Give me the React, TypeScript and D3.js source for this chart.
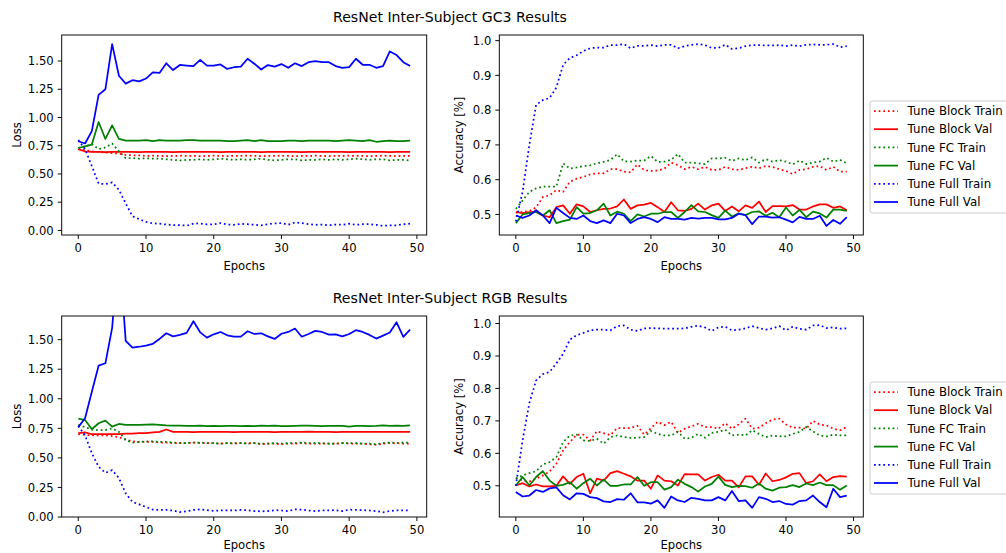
import React from 'react';
import { scaleLinear, line, min, max, format } from 'd3';

const seriesLabels = ['Tune Block Train', 'Tune Block Val', 'Tune FC Train', 'Tune FC Val', 'Tune Full Train', 'Tune Full Val'];
const seriesColors = ['#ff0000', '#ff0000', '#008000', '#008000', '#0000ff', '#0000ff'];
const seriesDotted = [true, false, true, false, true, false];

const lossTicks = [0, 0.25, 0.5, 0.75, 1.0, 1.25, 1.5];
const accTicks = [0.5, 0.6, 0.7, 0.8, 0.9, 1.0];
const epochTicks = [0, 10, 20, 30, 40, 50];

const titles = ['ResNet Inter-Subject GC3 Results', 'ResNet Inter-Subject RGB Results'];

// ---- GC3 loss ----
const gc3LossBlockTrain = [0.72, 0.71, 0.70, 0.695, 0.69, 0.685, 0.68, 0.67, 0.665, 0.665, 0.66, 0.662, 0.66, 0.658, 0.66, 0.662, 0.66, 0.66, 0.658, 0.66, 0.662, 0.66, 0.658, 0.66, 0.66, 0.662, 0.66, 0.658, 0.66, 0.66, 0.662, 0.66, 0.658, 0.66, 0.66, 0.662, 0.66, 0.658, 0.66, 0.66, 0.662, 0.66, 0.66, 0.658, 0.66, 0.662, 0.66, 0.658, 0.66, 0.66];
const gc3LossBlockVal = [0.72, 0.70, 0.695, 0.695, 0.694, 0.695, 0.696, 0.695, 0.695, 0.694, 0.695, 0.695, 0.696, 0.695, 0.694, 0.695, 0.695, 0.695, 0.696, 0.695, 0.695, 0.694, 0.695, 0.695, 0.696, 0.695, 0.695, 0.694, 0.695, 0.695, 0.696, 0.695, 0.695, 0.694, 0.695, 0.695, 0.695, 0.696, 0.695, 0.695, 0.694, 0.695, 0.695, 0.696, 0.695, 0.695, 0.694, 0.695, 0.695, 0.695];
const gc3LossFcTrain = [0.73, 0.745, 0.765, 0.72, 0.735, 0.77, 0.70, 0.64, 0.64, 0.635, 0.64, 0.635, 0.635, 0.63, 0.625, 0.62, 0.625, 0.625, 0.63, 0.625, 0.63, 0.635, 0.63, 0.625, 0.63, 0.625, 0.63, 0.635, 0.625, 0.62, 0.625, 0.63, 0.63, 0.62, 0.625, 0.625, 0.63, 0.625, 0.63, 0.625, 0.63, 0.635, 0.63, 0.625, 0.63, 0.63, 0.62, 0.625, 0.625, 0.62];
const gc3LossFcVal = [0.73, 0.745, 0.76, 0.96, 0.81, 0.93, 0.81, 0.795, 0.795, 0.795, 0.80, 0.79, 0.80, 0.795, 0.795, 0.795, 0.80, 0.80, 0.795, 0.795, 0.795, 0.795, 0.79, 0.79, 0.795, 0.80, 0.79, 0.80, 0.79, 0.79, 0.79, 0.795, 0.795, 0.79, 0.795, 0.795, 0.795, 0.795, 0.79, 0.795, 0.80, 0.795, 0.79, 0.80, 0.785, 0.79, 0.795, 0.79, 0.79, 0.795];
const gc3LossFullTrain = [0.80, 0.72, 0.57, 0.415, 0.41, 0.425, 0.36, 0.24, 0.125, 0.10, 0.075, 0.062, 0.06, 0.052, 0.048, 0.048, 0.042, 0.06, 0.062, 0.053, 0.053, 0.065, 0.052, 0.05, 0.058, 0.055, 0.05, 0.045, 0.055, 0.062, 0.065, 0.05, 0.07, 0.065, 0.055, 0.05, 0.052, 0.045, 0.052, 0.05, 0.06, 0.05, 0.055, 0.055, 0.05, 0.04, 0.045, 0.045, 0.055, 0.06];
const gc3LossFullVal = [0.79, 0.77, 0.88, 1.20, 1.25, 1.65, 1.37, 1.30, 1.33, 1.32, 1.345, 1.40, 1.395, 1.48, 1.42, 1.465, 1.46, 1.455, 1.51, 1.46, 1.46, 1.47, 1.43, 1.445, 1.45, 1.52, 1.476, 1.425, 1.464, 1.45, 1.473, 1.44, 1.48, 1.455, 1.49, 1.50, 1.49, 1.49, 1.455, 1.44, 1.446, 1.52, 1.467, 1.467, 1.44, 1.455, 1.585, 1.553, 1.49, 1.455];

// ---- GC3 accuracy ----
const gc3AccBlockTrain = [0.505, 0.507, 0.51, 0.52, 0.55, 0.555, 0.57, 0.565, 0.594, 0.603, 0.608, 0.615, 0.618, 0.618, 0.63, 0.63, 0.623, 0.621, 0.644, 0.628, 0.625, 0.626, 0.632, 0.649, 0.642, 0.63, 0.637, 0.63, 0.637, 0.628, 0.628, 0.637, 0.63, 0.628, 0.633, 0.637, 0.633, 0.639, 0.637, 0.63, 0.625, 0.616, 0.628, 0.63, 0.637, 0.639, 0.628, 0.637, 0.623, 0.623];
const gc3AccBlockVal = [0.507, 0.504, 0.507, 0.507, 0.497, 0.492, 0.521, 0.526, 0.502, 0.529, 0.523, 0.507, 0.512, 0.516, 0.517, 0.523, 0.543, 0.516, 0.526, 0.528, 0.533, 0.521, 0.507, 0.535, 0.512, 0.51, 0.516, 0.531, 0.514, 0.526, 0.531, 0.51, 0.523, 0.509, 0.526, 0.519, 0.537, 0.507, 0.524, 0.524, 0.523, 0.527, 0.514, 0.514, 0.523, 0.529, 0.529, 0.519, 0.523, 0.512];
const gc3AccFcTrain = [0.516, 0.54, 0.565, 0.575, 0.58, 0.58, 0.58, 0.647, 0.632, 0.635, 0.639, 0.641, 0.647, 0.651, 0.657, 0.673, 0.653, 0.652, 0.655, 0.655, 0.668, 0.651, 0.652, 0.657, 0.674, 0.649, 0.649, 0.647, 0.645, 0.661, 0.661, 0.663, 0.654, 0.661, 0.656, 0.664, 0.649, 0.659, 0.652, 0.656, 0.652, 0.644, 0.655, 0.645, 0.649, 0.652, 0.663, 0.652, 0.657, 0.647];
const gc3AccFcVal = [0.475, 0.50, 0.504, 0.507, 0.497, 0.512, 0.475, 0.481, 0.485, 0.521, 0.502, 0.504, 0.512, 0.531, 0.497, 0.508, 0.502, 0.481, 0.50, 0.494, 0.502, 0.502, 0.507, 0.507, 0.49, 0.507, 0.527, 0.509, 0.507, 0.498, 0.49, 0.511, 0.494, 0.503, 0.498, 0.507, 0.509, 0.496, 0.505, 0.492, 0.52, 0.497, 0.513, 0.492, 0.508, 0.503, 0.491, 0.514, 0.514, 0.51];
const gc3AccFullTrain = [0.48, 0.565, 0.70, 0.815, 0.829, 0.835, 0.865, 0.93, 0.95, 0.958, 0.97, 0.978, 0.98, 0.98, 0.987, 0.987, 0.99, 0.978, 0.985, 0.985, 0.987, 0.984, 0.988, 0.988, 0.978, 0.984, 0.988, 0.99, 0.987, 0.979, 0.979, 0.988, 0.976, 0.978, 0.984, 0.987, 0.987, 0.986, 0.986, 0.987, 0.984, 0.987, 0.984, 0.988, 0.989, 0.988, 0.988, 0.99, 0.981, 0.984];
const gc3AccFullVal = [0.497, 0.49, 0.497, 0.512, 0.497, 0.475, 0.519, 0.504, 0.49, 0.487, 0.497, 0.481, 0.475, 0.483, 0.475, 0.502, 0.497, 0.475, 0.487, 0.492, 0.487, 0.478, 0.492, 0.487, 0.487, 0.485, 0.49, 0.488, 0.49, 0.49, 0.486, 0.486, 0.49, 0.502, 0.498, 0.472, 0.494, 0.494, 0.491, 0.492, 0.485, 0.477, 0.493, 0.487, 0.487, 0.496, 0.467, 0.484, 0.473, 0.492];

// ---- RGB loss ----
const rgbLossBlockTrain = [0.70, 0.695, 0.69, 0.69, 0.69, 0.685, 0.675, 0.655, 0.64, 0.635, 0.635, 0.635, 0.63, 0.63, 0.625, 0.625, 0.625, 0.63, 0.625, 0.625, 0.625, 0.62, 0.625, 0.62, 0.625, 0.625, 0.625, 0.615, 0.62, 0.62, 0.615, 0.62, 0.62, 0.625, 0.62, 0.62, 0.62, 0.62, 0.62, 0.625, 0.62, 0.62, 0.62, 0.615, 0.61, 0.62, 0.625, 0.625, 0.62, 0.62];
const rgbLossBlockVal = [0.71, 0.715, 0.70, 0.70, 0.70, 0.70, 0.70, 0.705, 0.705, 0.71, 0.71, 0.715, 0.72, 0.74, 0.72, 0.72, 0.72, 0.718, 0.72, 0.72, 0.72, 0.72, 0.72, 0.718, 0.72, 0.72, 0.72, 0.72, 0.72, 0.718, 0.72, 0.72, 0.72, 0.72, 0.722, 0.72, 0.72, 0.72, 0.718, 0.72, 0.72, 0.72, 0.72, 0.72, 0.72, 0.72, 0.72, 0.72, 0.72, 0.72];
const rgbLossFcTrain = [0.78, 0.76, 0.74, 0.735, 0.735, 0.75, 0.72, 0.65, 0.63, 0.635, 0.64, 0.64, 0.635, 0.635, 0.63, 0.625, 0.625, 0.63, 0.63, 0.625, 0.625, 0.62, 0.625, 0.625, 0.625, 0.62, 0.625, 0.62, 0.62, 0.625, 0.62, 0.625, 0.625, 0.63, 0.625, 0.625, 0.625, 0.62, 0.62, 0.625, 0.625, 0.625, 0.62, 0.62, 0.615, 0.625, 0.63, 0.625, 0.63, 0.63];
const rgbLossFcVal = [0.832, 0.82, 0.742, 0.793, 0.815, 0.764, 0.787, 0.78, 0.78, 0.78, 0.782, 0.784, 0.78, 0.775, 0.772, 0.772, 0.77, 0.77, 0.772, 0.768, 0.77, 0.768, 0.77, 0.77, 0.768, 0.77, 0.768, 0.772, 0.77, 0.772, 0.768, 0.768, 0.77, 0.772, 0.772, 0.77, 0.768, 0.77, 0.77, 0.77, 0.765, 0.77, 0.77, 0.768, 0.77, 0.775, 0.77, 0.772, 0.77, 0.775];
const rgbLossFullTrain = [0.77, 0.69, 0.54, 0.425, 0.374, 0.396, 0.33, 0.20, 0.127, 0.107, 0.085, 0.062, 0.06, 0.06, 0.055, 0.042, 0.048, 0.06, 0.065, 0.058, 0.052, 0.055, 0.055, 0.055, 0.06, 0.058, 0.05, 0.048, 0.05, 0.058, 0.055, 0.05, 0.065, 0.062, 0.055, 0.05, 0.055, 0.055, 0.058, 0.05, 0.062, 0.06, 0.058, 0.055, 0.05, 0.04, 0.05, 0.055, 0.055, 0.055];
const rgbLossFullVal = [0.76, 0.835, 1.06, 1.28, 1.30, 1.60, 2.3, 1.49, 1.432, 1.44, 1.45, 1.465, 1.506, 1.554, 1.528, 1.54, 1.557, 1.656, 1.562, 1.517, 1.545, 1.565, 1.537, 1.525, 1.525, 1.571, 1.548, 1.554, 1.528, 1.506, 1.55, 1.565, 1.594, 1.525, 1.548, 1.574, 1.565, 1.543, 1.545, 1.528, 1.548, 1.58, 1.565, 1.54, 1.509, 1.534, 1.56, 1.647, 1.523, 1.585];

// ---- RGB accuracy ----
const rgbAccBlockTrain = [0.524, 0.516, 0.513, 0.522, 0.532, 0.544, 0.568, 0.609, 0.635, 0.657, 0.658, 0.64, 0.668, 0.662, 0.656, 0.678, 0.678, 0.678, 0.685, 0.658, 0.677, 0.697, 0.687, 0.697, 0.663, 0.676, 0.683, 0.691, 0.681, 0.681, 0.676, 0.693, 0.676, 0.689, 0.707, 0.676, 0.679, 0.693, 0.704, 0.707, 0.689, 0.679, 0.679, 0.676, 0.70, 0.689, 0.686, 0.676, 0.671, 0.681];
const rgbAccBlockVal = [0.501, 0.508, 0.498, 0.504, 0.498, 0.498, 0.50, 0.529, 0.506, 0.527, 0.537, 0.477, 0.522, 0.516, 0.539, 0.545, 0.537, 0.529, 0.516, 0.516, 0.491, 0.532, 0.516, 0.514, 0.501, 0.536, 0.535, 0.535, 0.516, 0.527, 0.534, 0.516, 0.516, 0.495, 0.529, 0.529, 0.503, 0.538, 0.514, 0.518, 0.526, 0.537, 0.539, 0.508, 0.514, 0.535, 0.514, 0.527, 0.53, 0.528];
const rgbAccFcTrain = [0.522, 0.532, 0.539, 0.545, 0.566, 0.573, 0.588, 0.635, 0.655, 0.658, 0.64, 0.638, 0.645, 0.63, 0.65, 0.655, 0.65, 0.648, 0.648, 0.65, 0.669, 0.66, 0.655, 0.655, 0.666, 0.645, 0.648, 0.66, 0.648, 0.663, 0.666, 0.673, 0.655, 0.658, 0.655, 0.671, 0.66, 0.65, 0.655, 0.652, 0.652, 0.66, 0.666, 0.681, 0.668, 0.655, 0.652, 0.658, 0.655, 0.655];
const rgbAccFcVal = [0.501, 0.527, 0.501, 0.527, 0.545, 0.516, 0.50, 0.503, 0.511, 0.491, 0.508, 0.522, 0.501, 0.519, 0.50, 0.50, 0.504, 0.504, 0.527, 0.50, 0.511, 0.511, 0.488, 0.496, 0.519, 0.506, 0.496, 0.482, 0.498, 0.506, 0.528, 0.503, 0.496, 0.50, 0.499, 0.494, 0.507, 0.491, 0.485, 0.494, 0.496, 0.502, 0.496, 0.507, 0.502, 0.51, 0.502, 0.502, 0.488, 0.501];
const rgbAccFullTrain = [0.50, 0.64, 0.755, 0.825, 0.844, 0.851, 0.877, 0.907, 0.95, 0.964, 0.971, 0.979, 0.981, 0.981, 0.979, 0.992, 0.994, 0.981, 0.977, 0.985, 0.986, 0.985, 0.984, 0.984, 0.984, 0.985, 0.99, 0.993, 0.988, 0.977, 0.988, 0.99, 0.979, 0.981, 0.985, 0.992, 0.986, 0.981, 0.985, 0.992, 0.979, 0.99, 0.984, 0.981, 0.994, 0.995, 0.986, 0.988, 0.984, 0.985];
const rgbAccFullVal = [0.481, 0.467, 0.47, 0.487, 0.481, 0.492, 0.495, 0.471, 0.458, 0.477, 0.475, 0.465, 0.462, 0.452, 0.45, 0.459, 0.457, 0.477, 0.449, 0.449, 0.445, 0.455, 0.432, 0.467, 0.455, 0.45, 0.463, 0.46, 0.455, 0.455, 0.465, 0.455, 0.484, 0.453, 0.455, 0.432, 0.465, 0.46, 0.45, 0.453, 0.444, 0.442, 0.453, 0.455, 0.47, 0.45, 0.434, 0.491, 0.465, 0.47];

const gc3Loss = [gc3LossBlockTrain, gc3LossBlockVal, gc3LossFcTrain, gc3LossFcVal, gc3LossFullTrain, gc3LossFullVal];
const gc3Acc = [gc3AccBlockTrain, gc3AccBlockVal, gc3AccFcTrain, gc3AccFcVal, gc3AccFullTrain, gc3AccFullVal];
const rgbLoss = [rgbLossBlockTrain, rgbLossBlockVal, rgbLossFcTrain, rgbLossFcVal, rgbLossFullTrain, rgbLossFullVal];
const rgbAcc = [rgbAccBlockTrain, rgbAccBlockVal, rgbAccFcTrain, rgbAccFcVal, rgbAccFullTrain, rgbAccFullVal];

const FONT = 'DejaVu Sans';
const FS = 11.6;
const LW = 1.75;
const DOTS = '1.75 2.9';

// matplotlib style auto limits: 5% margin on each side
const padded = (series: number[][]) => {
    const all = series.flat();
    const lo = min(all) as number;
    const hi = max(all) as number;
    const p = (hi - lo) * 0.05;
    return [lo - p, hi + p];
};

const Legend = ({ x, y }) => {
    const step = 18.2;
    return (
        <g transform={`translate(${x}, ${y})`}>
            <rect x={0} y={0} width={146} height={112} rx={2.5} fill="white" fillOpacity={0.8} stroke="#cccccc" strokeWidth={1} />
            {seriesLabels.map((lab, i) => (
                <g key={lab} transform={`translate(0, ${10 + i * step})`}>
                    <line x1={4} x2={28} stroke={seriesColors[i]} strokeWidth={LW} strokeDasharray={seriesDotted[i] ? DOTS : undefined} />
                    <text x={37.5} dy="0.36em" fontSize={11.8} fill="#000">{lab}</text>
                </g>
            ))}
        </g>
    );
};

const Panel = ({ id, left, top, width, height, data, yDomain, yTicks, yFmt, ylabel, labelGap, xlabelGap, legend }) => {
    const n = data[0].length;
    const xScale = scaleLinear().domain([-(n - 1) * 0.05, (n - 1) * 1.05]).range([0, width]);
    const yScale = scaleLinear().domain(yDomain).range([height, 0]);
    const path = line<number>().x((d, i) => xScale(i)).y(d => yScale(d));

    return (
        <g transform={`translate(${left}, ${top})`}>
            <defs>
                <clipPath id={id}>
                    <rect x={0} y={0} width={width} height={height} />
                </clipPath>
            </defs>
            <g clipPath={`url(#${id})`}>
                {data.map((s, i) => (
                    <path key={i} d={path(s) || ''} fill="none" stroke={seriesColors[i]} strokeWidth={LW}
                        strokeDasharray={seriesDotted[i] ? DOTS : undefined} strokeLinejoin="round" />
                ))}
            </g>
            <rect x={0} y={0} width={width} height={height} fill="none" stroke="#000" strokeWidth={0.95} />
            {yTicks.map(t => (
                <g key={t} transform={`translate(0, ${yScale(t)})`}>
                    <line x1={-4} x2={0} stroke="#000" strokeWidth={0.95} />
                    <text x={-8} dy="0.36em" textAnchor="end" fontSize={FS} fill="#000">{format(yFmt)(t)}</text>
                </g>
            ))}
            {epochTicks.map(t => (
                <g key={t} transform={`translate(${xScale(t)}, ${height})`}>
                    <line y1={0} y2={4} stroke="#000" strokeWidth={0.95} />
                    <text y={8} dy="0.76em" textAnchor="middle" fontSize={FS} fill="#000">{t}</text>
                </g>
            ))}
            <text x={width / 2} y={height + xlabelGap} textAnchor="middle" fontSize={FS} fill="#000">Epochs</text>
            <text transform={`translate(${-labelGap}, ${height / 2}) rotate(-90)`} textAnchor="middle" fontSize={FS} fill="#000">{ylabel}</text>
            {legend && <Legend x={width + 6.7} y={66} />}
        </g>
    );
};

export default function App() {
    return (
        <svg width={1006} height={553} style={{ position: 'absolute', left: 0, top: 0, background: 'white' }} fontFamily={FONT}>
            <rect x={0} y={0} width={1006} height={553} fill="white" />
            <text x={450} y={22} textAnchor="middle" fontSize={14.1} fill="#000">{titles[0]}</text>
            <text x={450} y={303} textAnchor="middle" fontSize={14.1} fill="#000">{titles[1]}</text>

            <Panel id="c1" left={61.7} top={35} width={365} height={200} data={gc3Loss}
                yDomain={padded(gc3Loss)} yTicks={lossTicks} yFmt=".2f" ylabel="Loss" labelGap={41} xlabelGap={35} legend={false} />
            <Panel id="c2" left={499.3} top={35} width={364} height={200} data={gc3Acc}
                yDomain={padded(gc3Acc)} yTicks={accTicks} yFmt=".1f" ylabel="Accuracy [%]" labelGap={36} xlabelGap={35} legend={true} />
            <Panel id="c3" left={61.7} top={316} width={365} height={201} data={rgbLoss}
                yDomain={[0, 1.7]} yTicks={lossTicks} yFmt=".2f" ylabel="Loss" labelGap={41} xlabelGap={32} legend={false} />
            <Panel id="c4" left={499.3} top={316} width={364} height={201} data={rgbAcc}
                yDomain={padded(rgbAcc)} yTicks={accTicks} yFmt=".1f" ylabel="Accuracy [%]" labelGap={36} xlabelGap={32} legend={true} />
        </svg>
    );
}
